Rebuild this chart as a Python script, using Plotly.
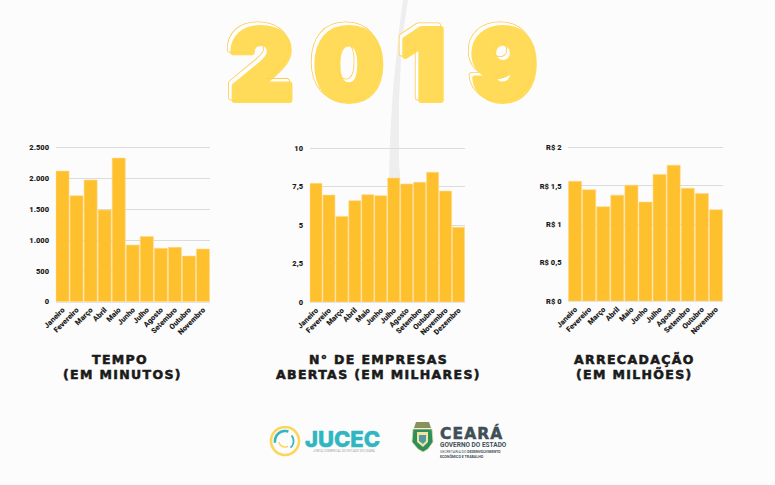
import numpy as np
import plotly.graph_objects as go

W, H = 775, 485
meses = ["Janeiro", "Fevereiro", "Março", "Abril", "Maio", "Junho", "Julho",
         "Agosto", "Setembro", "Outubro", "Novembro", "Dezembro"]
tempo = [2121, 1720, 1975, 1488, 2332, 920, 1060, 866, 882, 741, 855]
empresas = [7.72, 6.96, 5.57, 6.59, 6.98, 6.92, 8.07, 7.68, 7.79, 8.44, 7.22, 4.86]
arrecadacao = [1.56, 1.45, 1.23, 1.38, 1.51, 1.29, 1.65, 1.77, 1.47, 1.40, 1.19]

tempo_ticks = [0, 500, 1000, 1500, 2000, 2500]
tempo_labels = ["0", "500", "1.000", "1.500", "2.000", "2.500"]
empresas_ticks = [0, 2.5, 5, 7.5, 10]
empresas_labels = ["0", "2,5", "5", "7,5", "10"]
arrec_ticks = [0, 0.5, 1, 1.5, 2]
arrec_labels = ["R$ 0", "R$ 0,5", "R$ 1", "R$ 1,5", "R$ 2"]

BAR = "#FFC02E"
INK = "#1c1c1c"
px = lambda x: x / W
py = lambda y: 1 - y / H
HEAD = 1.015  # headroom so that the top gridline is kept by plotly

fig = go.Figure()
panels = [
    (tempo, tempo_ticks, tempo_labels, (55.5, 210), (147.7, 301.7), ""),
    (empresas, empresas_ticks, empresas_labels, (309.5, 465), (148.3, 302), "2"),
    (arrecadacao, arrec_ticks, arrec_labels, (568, 723), (147.5, 301.2), "3"),
]
layout_axes = {}
for vals, tv, tt, (x0, x1), (y0, y1), s in panels:
    cats = meses[:len(vals)]
    fig.add_bar(x=cats, y=vals, marker=dict(color=BAR, line=dict(color="#FFD98A", width=0.6)),
                xaxis="x" + s, yaxis="y" + s, showlegend=False)
    layout_axes["xaxis" + s] = dict(
        domain=[px(x0), px(x1)], anchor="y" + s, tickangle=-45, categoryorder="array",
        categoryarray=cats, range=[-0.5, len(vals) - 0.5], showgrid=False, automargin=False,
        tickfont=dict(family="Roboto", size=7.5, color=INK, weight=900),
        showline=True, linecolor="#e4e4e4", linewidth=1, ticks="", fixedrange=True)
    layout_axes["yaxis" + s] = dict(
        domain=[py(y1), py(y0 - (y1 - y0) * (HEAD - 1))], anchor="x" + s,
        range=[0, tv[-1] * HEAD], tickvals=tv, ticktext=tt, automargin=False,
        showgrid=True, gridcolor="#dcdcdc", gridwidth=1, zeroline=False,
        tickfont=dict(family="Roboto", size=7.5, color=INK, weight=900),
        ticks="outside", ticklen=4, tickcolor="rgba(0,0,0,0)", fixedrange=True)

ann = []
def text(x, y, t, size, color="#1a1a1a", family="DejaVu Sans", weight=700, anchor="center",
         style=None, opacity=1):
    font = dict(family=family, size=size, color=color, weight=weight)
    if style:
        t = f'<span style="{style}">{t}</span>'
    ann.append(dict(x=px(x), y=py(y), xref="paper", yref="paper", text=t, showarrow=False,
                    xanchor=anchor, yanchor="middle", font=font, align="center", opacity=opacity))

# Big title: each digit has an outlined layer and a filled offset layer
title_digits = ["2", "0", "1", "9"]
digit_x = [260, 348, 422, 503]
SZ = 98
ROUND = "stroke-linejoin:round;paint-order:stroke;"
for d, x in zip(title_digits, digit_x):
    text(x - 2, 61, d, SZ, color="#FFFFFF", family="Inter", weight=900,
         style=ROUND + "stroke:#FFC94F;stroke-width:7px")
    text(x - 2, 61, d, SZ, color="#FFFFFF", family="Inter", weight=900,
         style=ROUND + "stroke:#FFFFFF;stroke-width:5.4px")
for d, x in zip(title_digits, digit_x):
    text(x + 1, 65, d, SZ, color="#FFD848", family="Inter", weight=900, opacity=0.9,
         style=ROUND + "stroke:#FFD848;stroke-width:6px")

# Panel captions
cap = "stroke:#1a1a1a;stroke-width:0.55px;letter-spacing:1.35px"
text(120, 359, "TEMPO", 12.5, style=cap)
text(122, 374, "(EM MINUTOS)", 12.5, style=cap)
text(378, 359, "N° DE EMPRESAS", 12.5, style=cap)
text(378, 374, "ABERTAS (EM MILHARES)", 12.5, style=cap)
text(634, 359, "ARRECADAÇÃO", 12.5, style=cap)
text(634, 374, "(EM MILHÕES)", 12.5, style=cap)

# Logos
TEAL = "#2FB6C1"
SLATE = "#3F4F56"
text(342, 438.5, "JUCEC", 22, color=TEAL, family="Inter", weight=800,
     style="stroke:#2FB6C1;stroke-width:0.5px")
text(344, 450.5, "JUNTA COMERCIAL DO ESTADO DO CEARÁ", 3.2, color="#9aa5a8", family="Roboto", weight=400)
text(438, 433, "CEARÁ", 15.5, color=SLATE, family="DejaVu Sans", weight=700, anchor="left",
     style="stroke:#3F4F56;stroke-width:0.5px;letter-spacing:1.1px")
text(438, 445, "GOVERNO DO ESTADO", 6.5, color=SLATE, family="Roboto", weight=700, anchor="left")
text(438, 451.5, "SECRETARIA DO <b>DESENVOLVIMENTO</b>", 3.6, color=SLATE, family="Roboto", weight=400, anchor="left")
text(438, 456, "<b>ECONÔMICO E TRABALHO</b>", 3.6, color=SLATE, family="Roboto", weight=400, anchor="left")

shapes = []
def poly(pts, fill=None, line=None, width=1, closed=True, layer="above"):
    d = "M " + " L ".join(f"{px(a):.5f},{py(b):.5f}" for a, b in pts) + (" Z" if closed else "")
    shapes.append(dict(type="path", xref="paper", yref="paper", path=d, layer=layer,
                       fillcolor=fill or "rgba(0,0,0,0)",
                       line=dict(color=line or "rgba(0,0,0,0)", width=width if line else 0)))

def arc(cx, cy, r, a0, a1, color, width):
    t = np.radians(np.linspace(a0, a1, 40))
    poly(list(zip(cx + r * np.cos(t), cy - r * np.sin(t))), line=color, width=width, closed=False)

# paper crease
poly([(403, 0), (408, 0), (402, 40), (399, 100), (399, 160), (400, 178), (389, 178),
      (390, 140), (393, 90), (399, 30)], fill="rgba(200,200,200,0.28)", layer="below")

# JUCEC ring
arc(285, 441, 14, 145, -285 + 70, "#FFD45A", 2.6)
arc(285, 441, 10, 70, 190, TEAL, 2.6)
arc(285, 441, 6, 190, 300, "#FFD45A", 1.6)
arc(285, 441, 8.5, -50, 40, TEAL, 1.8)

# Ceará shield
poly([(413, 429), (432, 429), (433, 442), (428, 449), (423, 452), (418, 449), (412, 442)],
     fill="#2F8F5B", line="#E3D9A0", width=0.8)
poly([(417, 432), (428, 432), (428, 442), (423, 447), (417, 442)], fill="#F3E3A0")
poly([(419, 435), (426, 435), (426, 441), (423, 444), (419, 441)], fill="#4F9BA0")
poly([(416, 422), (429, 422), (431, 428), (414, 428)], fill="#8A8F5C")

fig.update_layout(
    width=W, height=H, margin=dict(l=0, r=0, t=0, b=0, autoexpand=False), autosize=False,
    paper_bgcolor="#FCFCFC", plot_bgcolor="rgba(0,0,0,0)", bargap=0.07,
    annotations=ann, shapes=shapes, **layout_axes)
fig.write_html("out.html", config=dict(displayModeBar=False),
               post_script="document.body.style.margin='0';document.body.style.background='#FCFCFC';")
